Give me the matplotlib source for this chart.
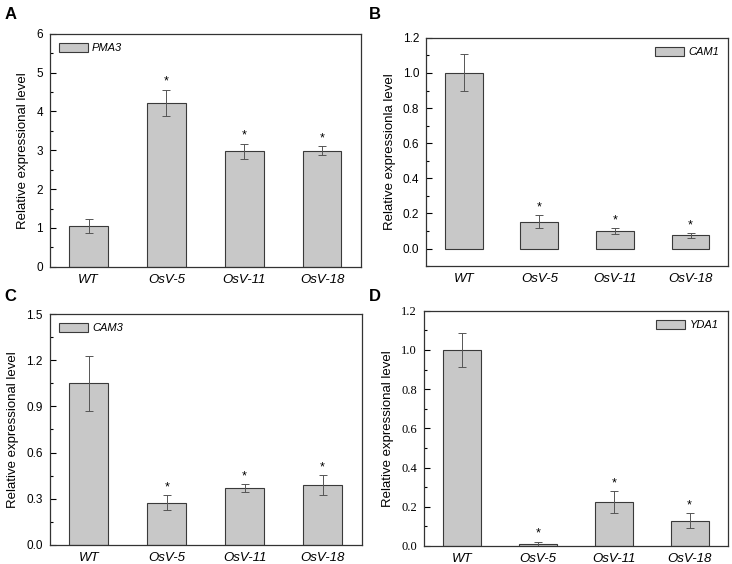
import numpy as np
import matplotlib
matplotlib.use('Agg')
import matplotlib.pyplot as plt
from matplotlib.ticker import AutoMinorLocator

lines = ['WT', 'OsV-5', 'OsV-11', 'OsV-18']

pma3 = [1.05, 4.22, 2.97, 2.99]
pma3_err = [0.17, 0.34, 0.20, 0.12]

cam1 = [1.00, 0.152, 0.098, 0.075]
cam1_err = [0.105, 0.037, 0.017, 0.012]

cam3 = [1.05, 0.275, 0.37, 0.39]
cam3_err = [0.18, 0.05, 0.024, 0.063]

yda1 = [1.00, 0.011, 0.223, 0.128]
yda1_err = [0.087, 0.011, 0.055, 0.038]

plt.rcParams['font.family'] = ['Liberation Sans', 'DejaVu Sans']

fig = plt.figure(figsize=(7.32, 5.64), dpi=100)

panels = [
    # label, gene, values, errors, ylabel, ylim, yticks, legend loc, rect, serif ticks
    ('A', 'PMA3', pma3, pma3_err, 'Relative expressional level', (0, 6),
     np.arange(0, 7, 1), 'upper left', [0.068, 0.527, 0.425, 0.413], False),
    ('B', 'CAM1', cam1, cam1_err, 'Relative expressionla level', (-0.1, 1.2),
     np.arange(0, 1.21, 0.2), 'upper right', [0.582, 0.528, 0.413, 0.405], False),
    ('C', 'CAM3', cam3, cam3_err, 'Relative expressional level', (0, 1.5),
     np.arange(0, 1.51, 0.3), 'upper left', [0.068, 0.034, 0.426, 0.409], False),
    ('D', 'YDA1', yda1, yda1_err, 'Relative expressional level', (0, 1.2),
     np.arange(0, 1.21, 0.2), 'upper right', [0.579, 0.032, 0.415, 0.417], True),
]

x = np.arange(len(lines))

for label, gene, vals, errs, ylab, ylim, yticks, loc, rect, serif in panels:
    ax = fig.add_axes(rect)
    ax.bar(x, vals, width=0.5, color='#c8c8c8', edgecolor='#3a3a3a',
           linewidth=0.8, label=gene)
    ax.errorbar(x, vals, yerr=errs, fmt='none', ecolor='#555555',
                elinewidth=0.7, capsize=3, capthick=0.7)
    span = ylim[1] - ylim[0]
    for i in range(1, len(lines)):
        ax.text(x[i], vals[i] + errs[i] + span * 0.008, '*', ha='center',
                va='bottom', fontsize=9)
    ax.set_xlim(-0.5, len(lines) - 0.5)
    ax.set_ylim(*ylim)
    ax.set_yticks(yticks)
    if ylim[1] == 6:
        ax.set_yticklabels(['%d' % t for t in yticks])
    else:
        ax.set_yticklabels(['%.1f' % t for t in yticks])
    ax.yaxis.set_minor_locator(AutoMinorLocator(2))
    ax.set_xticks(x)
    ax.set_xticklabels(lines, style='italic', fontsize=9.5)
    ax.tick_params(axis='x', length=0, pad=5)
    ax.tick_params(axis='y', which='major', direction='in', length=4,
                   width=0.8, labelsize=8.5, pad=5)
    ax.tick_params(axis='y', which='minor', direction='in', length=2,
                   width=0.8)
    if serif:
        for t in ax.get_yticklabels():
            t.set_family('Liberation Serif')
            t.set_fontsize(9)
    for s in ax.spines.values():
        s.set_linewidth(0.9)
        s.set_color('#333333')
    ax.set_ylabel(ylab, fontsize=9.5, labelpad=5)
    leg = ax.legend(loc=loc, frameon=False, fontsize=8, handlelength=2.6,
                    handleheight=0.9, borderaxespad=0.4, handletextpad=0.4)
    for t in leg.get_texts():
        t.set_style('italic')
    fx = 0.006 if rect[0] < 0.3 else 0.504
    fy = 0.975 if rect[1] > 0.3 else 0.475
    fig.text(fx, fy, label, fontsize=12, fontweight='bold', va='center')

fig.savefig('out.png', dpi=100)
